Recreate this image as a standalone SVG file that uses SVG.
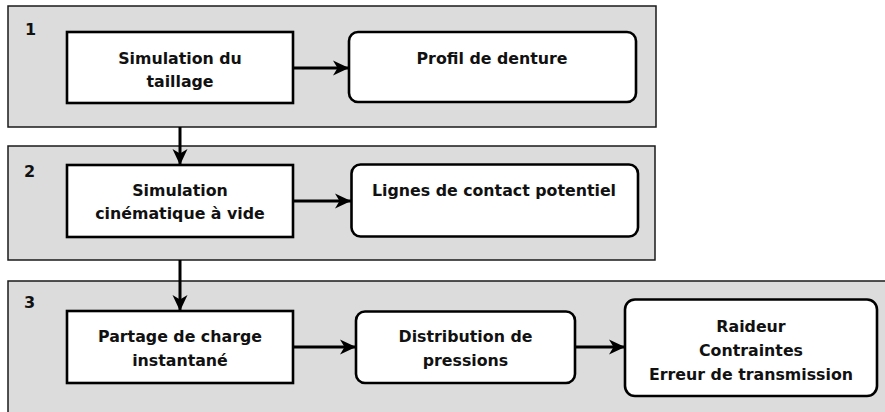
<svg xmlns="http://www.w3.org/2000/svg" width="885" height="412" viewBox="0 0 885 412">
<style>
.panel{fill:#dcdcdc;stroke:#1a1a1a;stroke-width:1.5}
.box{fill:#ffffff;stroke:#000000;stroke-width:2.6}
.lbl{font-family:"DejaVu Sans","Liberation Sans",sans-serif;font-weight:bold;font-size:15.8px;fill:#111111;text-anchor:middle}
.num{font-family:"DejaVu Sans","Liberation Sans",sans-serif;font-weight:bold;font-size:16px;fill:#111111}
.conn{stroke:#000000;stroke-width:3;fill:none;marker-end:url(#arr)}
</style>
<defs>
<marker id="arr" markerUnits="userSpaceOnUse" markerWidth="17" markerHeight="17" refX="16" refY="8.5" orient="auto">
<path d="M0,1 L16,8.5 L0,16 L4.5,8.5 z" fill="#000000"/>
</marker>
</defs>
<rect width="885" height="412" fill="#ffffff"/>
<g id="panel1">
<rect class="panel" x="8" y="6" width="648" height="121"/>
<text class="num" x="25" y="35">1</text>
</g>
<g id="panel2">
<rect class="panel" x="8" y="146" width="647" height="114"/>
<text class="num" x="24" y="177">2</text>
</g>
<g id="panel3">
<rect class="panel" x="8" y="281" width="890" height="140"/>
<text class="num" x="24" y="308">3</text>
</g>
<g id="connectors">
<line class="conn" x1="293" y1="68" x2="349" y2="68"/>
<line class="conn" x1="180" y1="127" x2="180" y2="165"/>
<line class="conn" x1="293" y1="201" x2="351" y2="201"/>
<line class="conn" x1="180" y1="260" x2="180" y2="311"/>
<line class="conn" x1="293" y1="347" x2="356" y2="347"/>
<line class="conn" x1="575" y1="347" x2="625" y2="347"/>
</g>
<g id="n1">
<rect class="box" x="67" y="32" width="226" height="71"/>
<text class="lbl" x="180" y="64">Simulation du</text>
<text class="lbl" x="180" y="87">taillage</text>
</g>
<g id="n2">
<rect class="box" x="349" y="32" width="287" height="70" rx="9"/>
<text class="lbl" x="492" y="64">Profil de denture</text>
</g>
<g id="n3">
<rect class="box" x="67" y="165" width="226" height="72"/>
<text class="lbl" x="180" y="196">Simulation</text>
<text class="lbl" x="180" y="219">cinématique à vide</text>
</g>
<g id="n4">
<rect class="box" x="351.5" y="164.5" width="286.5" height="72" rx="9"/>
<text class="lbl" x="494" y="196">Lignes de contact potentiel</text>
</g>
<g id="n5">
<rect class="box" x="67" y="311" width="226" height="72"/>
<text class="lbl" x="180" y="342">Partage de charge</text>
<text class="lbl" x="180" y="366">instantané</text>
</g>
<g id="n6">
<rect class="box" x="356" y="311.5" width="219" height="71.5" rx="9"/>
<text class="lbl" x="465.5" y="342">Distribution de</text>
<text class="lbl" x="465.5" y="366">pressions</text>
</g>
<g id="n7">
<rect class="box" x="625" y="299.5" width="252" height="96.5" rx="10"/>
<text class="lbl" x="751" y="332">Raideur</text>
<text class="lbl" x="751" y="356">Contraintes</text>
<text class="lbl" x="751" y="380">Erreur de transmission</text>
</g>
</svg>
